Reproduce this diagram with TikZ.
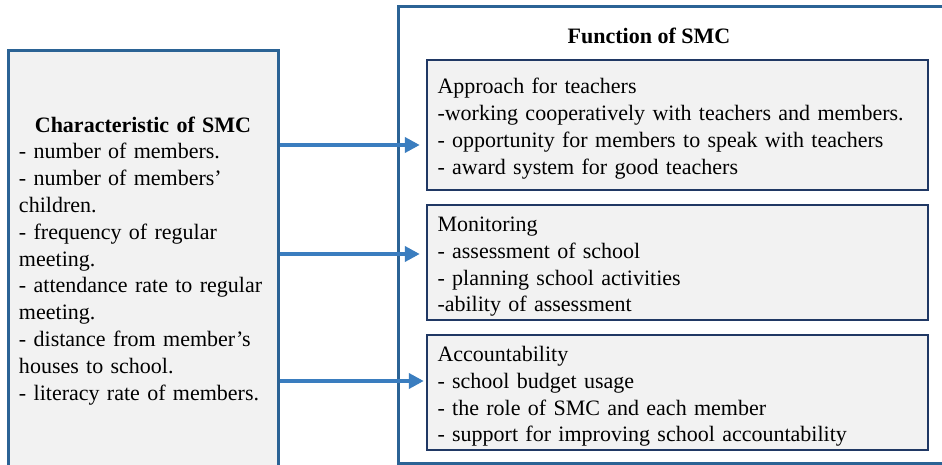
\documentclass[tikz,border=0pt]{standalone}
\usepackage{fontspec}
\setmainfont{Liberation Serif}
\usetikzlibrary{arrows.meta}
\definecolor{frameblue}{HTML}{2B6395}
\definecolor{boxnavy}{HTML}{203864}
\definecolor{boxfill}{HTML}{F2F2F2}
\definecolor{arrowblue}{HTML}{3A7DBF}
\tikzset{
  x=1pt, y=-1pt,
  txt/.style={font=\fontsize{22}{26.8}\selectfont},
  charbox/.style={draw=frameblue, line width=3pt, fill=boxfill, txt,
    minimum width=270pt, minimum height=416pt, text width=248pt,
    align=left, inner sep=0pt, execute at begin node={\rule{0pt}{19pt}}},
  outerbox/.style={draw=frameblue, line width=3pt, fill=white,
    minimum width=548pt, minimum height=456pt, inner sep=0pt},
  funcbox/.style={draw=boxnavy, line width=2.4pt, fill=boxfill, txt,
    minimum width=501pt, text width=480pt, align=left, inner sep=0pt,
    execute at begin node={\rule{0pt}{23pt}}},
  link/.style={draw=arrowblue, line width=3.8pt,
    -{Triangle[length=15pt,width=15pt]}},
}
\begin{document}
\begin{tikzpicture}
\useasboundingbox (0,0) rectangle (942,465);
\clip (0,0) rectangle (942,465);

% left column: characteristics
\node[charbox] (char) at (143,259) {%
  \makebox[\linewidth][c]{\bfseries Characteristic of SMC}\\
  - number of members.\\
  - number of members'\\
  children.\\
  - frequency of regular\\
  meeting.\\
  - attendance rate to regular\\
  meeting.\\
  - distance from member's\\
  houses to school.\\
  - literacy rate of members.};

% right column: functions
\node[outerbox] (outer) at (672,235) {};
\node[font=\fontsize{22}{26}\selectfont\bfseries] (ftitle) at (649,36) {Function of SMC};

\node[funcbox, minimum height=130pt] (teach) at (677.5,125) {%
  Approach for teachers\\
  -working cooperatively with teachers and members.\\
  - opportunity for members to speak with teachers\\
  - award system for good teachers};

\node[funcbox, minimum height=115pt] (monit) at (677.5,262.5) {%
  Monitoring\\
  - assessment of school\\
  - planning school activities\\
  -ability of assessment};

\node[funcbox, minimum height=115pt] (acct) at (677.5,392.5) {%
  Accountability\\
  - school budget usage\\
  - the role of SMC and each member\\
  - support for improving school accountability};

% connectors
\coordinate (y1) at (0,145);
\coordinate (y2) at (0,254);
\coordinate (y3) at (0,381);
\draw[link] (char.east |- y1) -- ([xshift=-6pt]teach.west |- y1);
\draw[link] (char.east |- y2) -- ([xshift=-6pt]monit.west |- y2);
\draw[link] (char.east |- y3) -- ([xshift=-2pt]acct.west |- y3);
\end{tikzpicture}
\end{document}
